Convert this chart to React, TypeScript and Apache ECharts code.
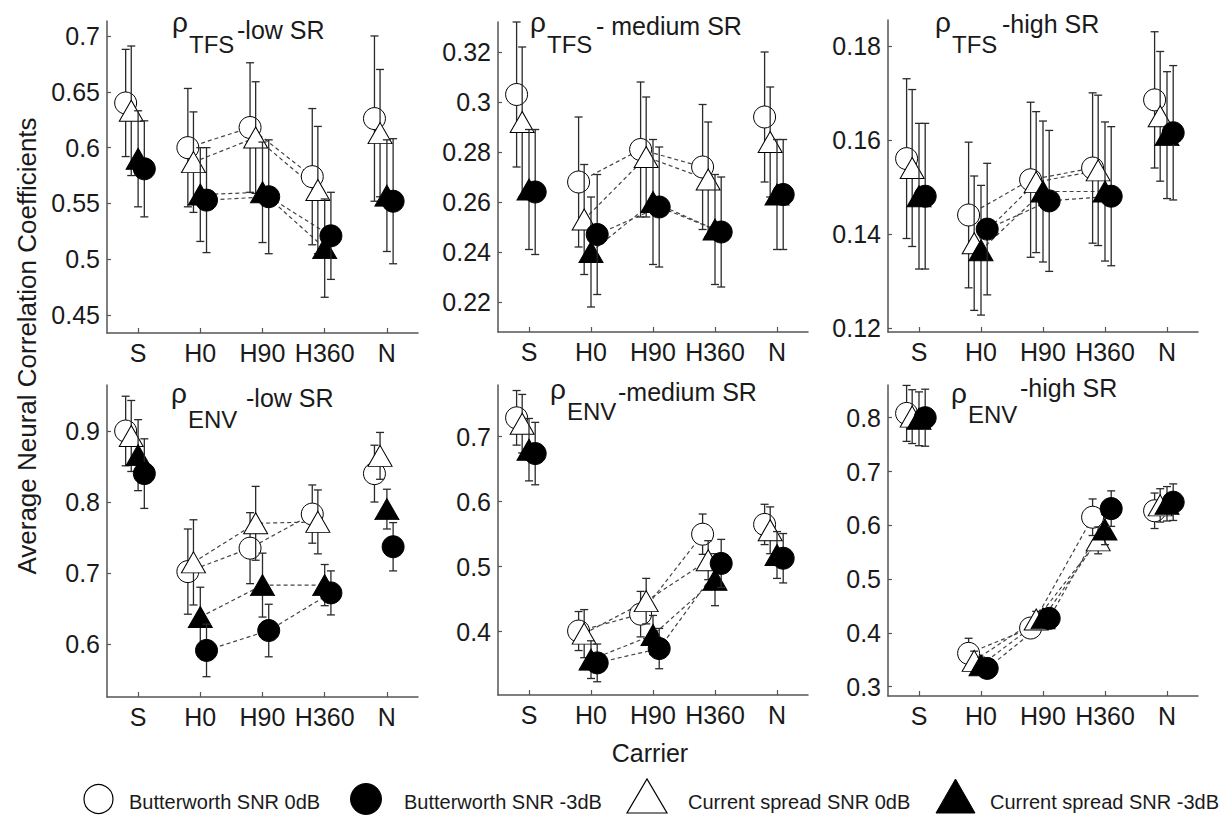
import React, { useEffect, useRef } from 'react';
import * as echarts from 'echarts';

const categories = ['S', 'H0', 'H90', 'H360', 'N'];
const seriesNames = ['Butterworth SNR 0dB', 'Butterworth SNR -3dB', 'Current spread SNR 0dB', 'Current spread SNR -3dB'];

// rho_TFS - low SR
const tfsLowBw0 = [0.640, 0.600, 0.618, 0.574, 0.626];
const tfsLowBw0Err = [0.048, 0.053, 0.058, 0.061, 0.074];
const tfsLowBw3 = [0.581, 0.553, 0.556, 0.521, 0.552];
const tfsLowBw3Err = [0.043, 0.047, 0.051, 0.039, 0.056];
const tfsLowCs0 = [0.633, 0.587, 0.609, 0.562, 0.613];
const tfsLowCs0Err = [0.058, 0.045, 0.050, 0.057, 0.057];
const tfsLowCs3 = [0.590, 0.558, 0.560, 0.510, 0.557];
const tfsLowCs3Err = [0.043, 0.042, 0.045, 0.044, 0.050];

// rho_TFS - medium SR
const tfsMedBw0 = [0.303, 0.268, 0.281, 0.274, 0.294];
const tfsMedBw0Err = [0.029, 0.026, 0.027, 0.025, 0.026];
const tfsMedBw3 = [0.264, 0.247, 0.258, 0.248, 0.263];
const tfsMedBw3Err = [0.025, 0.024, 0.024, 0.022, 0.022];
const tfsMedCs0 = [0.292, 0.253, 0.278, 0.269, 0.284];
const tfsMedCs0Err = [0.030, 0.022, 0.024, 0.023, 0.022];
const tfsMedCs3 = [0.265, 0.240, 0.260, 0.249, 0.263];
const tfsMedCs3Err = [0.024, 0.022, 0.025, 0.022, 0.022];

// rho_TFS - high SR
const tfsHighBw0 = [0.156, 0.144, 0.1515, 0.154, 0.1685];
const tfsHighBw0Err = [0.017, 0.0155, 0.0165, 0.016, 0.0145];
const tfsHighBw3 = [0.148, 0.141, 0.147, 0.148, 0.1615];
const tfsHighBw3Err = [0.0155, 0.014, 0.015, 0.0148, 0.0143];
const tfsHighCs0 = [0.154, 0.138, 0.151, 0.1535, 0.165];
const tfsHighCs0Err = [0.0167, 0.0143, 0.015, 0.016, 0.0138];
const tfsHighCs3 = [0.148, 0.1365, 0.149, 0.149, 0.161];
const tfsHighCs3Err = [0.0155, 0.0138, 0.015, 0.0148, 0.0135];

// rho_ENV - low SR
const envLowBw0 = [0.900, 0.702, 0.735, 0.783, 0.840];
const envLowBw0Err = [0.049, 0.060, 0.050, 0.041, 0.040];
const envLowBw3 = [0.840, 0.591, 0.619, 0.672, 0.737];
const envLowBw3Err = [0.049, 0.037, 0.037, 0.031, 0.034];
const envLowCs0 = [0.893, 0.715, 0.770, 0.772, 0.865];
const envLowCs0Err = [0.050, 0.060, 0.052, 0.045, 0.033];
const envLowCs3 = [0.866, 0.638, 0.683, 0.683, 0.790];
const envLowCs3Err = [0.050, 0.042, 0.045, 0.029, 0.028];

// rho_ENV - medium SR
const envMedBw0 = [0.729, 0.401, 0.427, 0.550, 0.565];
const envMedBw0Err = [0.042, 0.030, 0.035, 0.031, 0.031];
const envMedBw3 = [0.674, 0.352, 0.374, 0.505, 0.513];
const envMedBw3Err = [0.048, 0.029, 0.031, 0.037, 0.038];
const envMedCs0 = [0.720, 0.397, 0.447, 0.510, 0.556];
const envMedCs0Err = [0.045, 0.037, 0.035, 0.030, 0.036];
const envMedCs3 = [0.680, 0.357, 0.395, 0.480, 0.518];
const envMedCs3Err = [0.048, 0.029, 0.030, 0.040, 0.036];

// rho_ENV - high SR
const envHighBw0 = [0.808, 0.362, 0.409, 0.615, 0.627];
const envHighBw0Err = [0.052, 0.028, 0.015, 0.034, 0.033];
const envHighBw3 = [0.800, 0.334, 0.427, 0.631, 0.643];
const envHighBw3Err = [0.053, 0.015, 0.015, 0.033, 0.034];
const envHighCs0 = [0.802, 0.348, 0.425, 0.572, 0.637];
const envHighCs0Err = [0.050, 0.018, 0.015, 0.025, 0.031];
const envHighCs3 = [0.798, 0.340, 0.427, 0.592, 0.640];
const envHighCs3Err = [0.050, 0.015, 0.015, 0.028, 0.032];

// y axis ticks per panel
const tfsLowTicks = [0.45, 0.5, 0.55, 0.6, 0.65, 0.7];
const tfsMedTicks = [0.22, 0.24, 0.26, 0.28, 0.3, 0.32];
const tfsHighTicks = [0.12, 0.14, 0.16, 0.18];
const envLowTicks = [0.6, 0.7, 0.8, 0.9];
const envMedTicks = [0.4, 0.5, 0.6, 0.7];
const envHighTicks = [0.3, 0.4, 0.5, 0.6, 0.7, 0.8];

const subscripts = ['TFS', 'TFS', 'TFS', 'ENV', 'ENV', 'ENV'];
const superscripts = ['-low SR', '- medium SR', '-high SR', '-low SR', '-medium SR', '-high SR'];

const panels = [
  { m: [tfsLowBw0, tfsLowBw3, tfsLowCs0, tfsLowCs3], e: [tfsLowBw0Err, tfsLowBw3Err, tfsLowCs0Err, tfsLowCs3Err], ticks: tfsLowTicks, min: 0.434, max: 0.7134 },
  { m: [tfsMedBw0, tfsMedBw3, tfsMedCs0, tfsMedCs3], e: [tfsMedBw0Err, tfsMedBw3Err, tfsMedCs0Err, tfsMedCs3Err], ticks: tfsMedTicks, min: 0.208, max: 0.332 },
  { m: [tfsHighBw0, tfsHighBw3, tfsHighCs0, tfsHighCs3], e: [tfsHighBw0Err, tfsHighBw3Err, tfsHighCs0Err, tfsHighCs3Err], ticks: tfsHighTicks, min: 0.1191, max: 0.1855 },
  { m: [envLowBw0, envLowBw3, envLowCs0, envLowCs3], e: [envLowBw0Err, envLowBw3Err, envLowCs0Err, envLowCs3Err], ticks: envLowTicks, min: 0.5254, max: 0.9648 },
  { m: [envMedBw0, envMedBw3, envMedCs0, envMedCs3], e: [envMedBw0Err, envMedBw3Err, envMedCs0Err, envMedCs3Err], ticks: envMedTicks, min: 0.3026, max: 0.7795 },
  { m: [envHighBw0, envHighBw3, envHighCs0, envHighCs3], e: [envHighBw0Err, envHighBw3Err, envHighCs0Err, envHighCs3Err], ticks: envHighTicks, min: 0.2827, max: 0.8608 },
];

const panelLayout = [
  { left: 107, top: 21, width: 311, height: 312 },
  { left: 498, top: 22, width: 310, height: 310 },
  { left: 888, top: 20, width: 310, height: 312 },
  { left: 107, top: 385, width: 311, height: 312 },
  { left: 498, top: 385, width: 310, height: 310 },
  { left: 888, top: 385, width: 310, height: 311 },
];

const titleLayout = [
  { rho: [172, 22.5], sub: [189, 44], sup: [237, 30] },
  { rho: [530, 22.5], sub: [547, 44], sup: [596, 26] },
  { rho: [935, 22.5], sub: [952, 44], sup: [1002, 24] },
  { rho: [171, 393], sub: [188, 419], sup: [246, 398] },
  { rho: [550, 389], sub: [567, 411], sup: [618, 392] },
  { rho: [951, 393], sub: [968, 414], sup: [1020, 388] },
];

// draw order: Butterworth 0dB, Current spread 0dB, Current spread -3dB, Butterworth -3dB
const drawOrder = [0, 2, 3, 1];
const styles = [
  { symbol: 'circle', size: 22, fill: '#ffffff', offset: -0.2 },
  { symbol: 'circle', size: 22, fill: '#000000', offset: 0.1 },
  { symbol: 'triangle', size: [24, 21], fill: '#ffffff', offset: -0.11 },
  { symbol: 'triangle', size: [24, 21], fill: '#000000', offset: 0.0 },
];

const FONT = '"Liberation Sans", Arial, Helvetica, sans-serif';
const AXIS_COLOR = '#555555';
const TEXT_COLOR = '#1a1a1a';

const fmt = (v: number) => String(+Number(v).toFixed(3));

function buildOption() {
  const grid: any[] = [];
  const xAxis: any[] = [];
  const yAxis: any[] = [];
  const series: any[] = [];
  const graphic: any[] = [];

  panels.forEach((p, pi) => {
    const L = panelLayout[pi];
    grid.push({ left: L.left, top: L.top, width: L.width, height: L.height, containLabel: false });
    xAxis.push({
      type: 'value', gridIndex: pi, min: 0.5, max: 5.5,
      axisLine: { show: true, onZero: false, lineStyle: { color: AXIS_COLOR, width: 1.5 } },
      axisTick: { show: true, inside: true, length: 5, customValues: [1, 2, 3, 4, 5], lineStyle: { color: AXIS_COLOR, width: 1.2 } },
      axisLabel: {
        customValues: [1, 2, 3, 4, 5],
        formatter: (v: number) => categories[Math.round(v) - 1] ?? '',
        fontSize: 25, fontFamily: FONT, color: TEXT_COLOR, margin: 7,
      },
      splitLine: { show: false },
    });
    yAxis.push({
      type: 'value', gridIndex: pi, min: p.min, max: p.max,
      axisLine: { show: true, onZero: false, lineStyle: { color: AXIS_COLOR, width: 1.5 } },
      axisTick: { show: true, inside: true, length: 4, customValues: p.ticks, lineStyle: { color: AXIS_COLOR, width: 1.2 } },
      axisLabel: {
        customValues: p.ticks,
        formatter: (v: number) => fmt(v),
        fontSize: 25, fontFamily: FONT, color: TEXT_COLOR, margin: 7,
      },
      splitLine: { show: false },
    });

    // dashed connecting lines H0-H90-H360
    drawOrder.forEach((si) => {
      const st = styles[si];
      const means = p.m[si];
      series.push({
        type: 'line', name: seriesNames[si], xAxisIndex: pi, yAxisIndex: pi, z: 1,
        data: [1, 2, 3].map((i) => [i + 1 + st.offset, means[i]]),
        symbol: 'none', showSymbol: false, silent: true,
        lineStyle: { color: '#444', width: 1.2, type: [4, 3] },
      });
    });

    drawOrder.forEach((si, k) => {
      const st = styles[si];
      const means = p.m[si];
      const errs = p.e[si];
      series.push({
        type: 'custom', name: seriesNames[si], xAxisIndex: pi, yAxisIndex: pi, z: 2 + k * 2,
        coordinateSystem: 'cartesian2d',
        encode: { x: 0, y: [1, 2] },
        data: means.map((m, i) => [i + 1 + st.offset, m - errs[i], m + errs[i]]),
        renderItem: (params: any, api: any) => {
          const x = api.value(0);
          const lo = api.coord([x, api.value(1)]);
          const hi = api.coord([x, api.value(2)]);
          const hw = 4;
          const ls = { stroke: '#2a2a2a', lineWidth: 1.3 };
          return {
            type: 'group',
            children: [
              { type: 'line', shape: { x1: lo[0], y1: lo[1], x2: hi[0], y2: hi[1] }, style: ls },
              { type: 'line', shape: { x1: lo[0] - hw, y1: lo[1], x2: lo[0] + hw, y2: lo[1] }, style: ls },
              { type: 'line', shape: { x1: hi[0] - hw, y1: hi[1], x2: hi[0] + hw, y2: hi[1] }, style: ls },
            ],
          };
        },
      });
      series.push({
        type: 'scatter', name: seriesNames[si], xAxisIndex: pi, yAxisIndex: pi, z: 3 + k * 2,
        data: means.map((m, i) => [i + 1 + st.offset, m]),
        symbol: st.symbol, symbolSize: st.size,
        itemStyle: { color: st.fill, borderColor: '#000', borderWidth: 1, opacity: 1 },
      });
    });

    // panel title
    const T = titleLayout[pi];
    graphic.push({ type: 'text', x: T.rho[0], y: T.rho[1], style: { text: 'ρ', fontSize: 28, fontFamily: FONT, fill: TEXT_COLOR, align: 'left', verticalAlign: 'middle' } });
    graphic.push({ type: 'text', x: T.sub[0], y: T.sub[1], style: { text: subscripts[pi], fontSize: 24, fontFamily: FONT, fill: TEXT_COLOR, align: 'left', verticalAlign: 'middle' } });
    graphic.push({ type: 'text', x: T.sup[0], y: T.sup[1], style: { text: superscripts[pi], fontSize: 25, fontFamily: FONT, fill: TEXT_COLOR, align: 'left', verticalAlign: 'middle' } });
  });

  // axis titles
  graphic.push({ type: 'text', x: 27, y: 346, rotation: Math.PI / 2, style: { text: 'Average Neural Correlation Coefficients', fontSize: 26, fontFamily: FONT, fill: TEXT_COLOR, align: 'center', verticalAlign: 'middle' } });
  graphic.push({ type: 'text', x: 650, y: 753, style: { text: 'Carrier', fontSize: 25, fontFamily: FONT, fill: TEXT_COLOR, align: 'center', verticalAlign: 'middle' } });

  // legend
  const ly = 799;
  graphic.push({ type: 'circle', shape: { cx: 98.5, cy: ly, r: 14.5 }, style: { fill: '#fff', stroke: '#000', lineWidth: 1.2 } });
  graphic.push({ type: 'text', x: 129, y: 802, style: { text: seriesNames[0], fontSize: 20, fontFamily: FONT, fill: TEXT_COLOR, align: 'left', verticalAlign: 'middle' } });
  graphic.push({ type: 'circle', shape: { cx: 366, cy: ly, r: 15.5 }, style: { fill: '#000', stroke: '#000', lineWidth: 1 } });
  graphic.push({ type: 'text', x: 404, y: 802, style: { text: seriesNames[1], fontSize: 20, fontFamily: FONT, fill: TEXT_COLOR, align: 'left', verticalAlign: 'middle' } });
  graphic.push({ type: 'polygon', shape: { points: [[627, 813], [667, 813], [647, 779]] }, style: { fill: '#fff', stroke: '#000', lineWidth: 1.2 } });
  graphic.push({ type: 'text', x: 688, y: 802, style: { text: seriesNames[2], fontSize: 20, fontFamily: FONT, fill: TEXT_COLOR, align: 'left', verticalAlign: 'middle' } });
  graphic.push({ type: 'polygon', shape: { points: [[936, 813], [975, 813], [955.5, 779]] }, style: { fill: '#000', stroke: '#000', lineWidth: 1 } });
  graphic.push({ type: 'text', x: 990, y: 802, style: { text: seriesNames[3], fontSize: 20, fontFamily: FONT, fill: TEXT_COLOR, align: 'left', verticalAlign: 'middle' } });

  return {
    animation: false,
    backgroundColor: '#ffffff',
    textStyle: { fontFamily: FONT },
    grid, xAxis, yAxis, series, graphic,
  };
}

export default function App() {
  const ref = useRef<HTMLDivElement>(null);
  useEffect(() => {
    const chart = echarts.init(ref.current!, null, { renderer: 'svg' });
    chart.setOption(buildOption() as any);
    return () => chart.dispose();
  }, []);
  return (
    <div
      ref={ref}
      style={{ position: 'absolute', left: 0, top: 0, width: 1225, height: 815, background: '#ffffff' }}
    />
  );
}
